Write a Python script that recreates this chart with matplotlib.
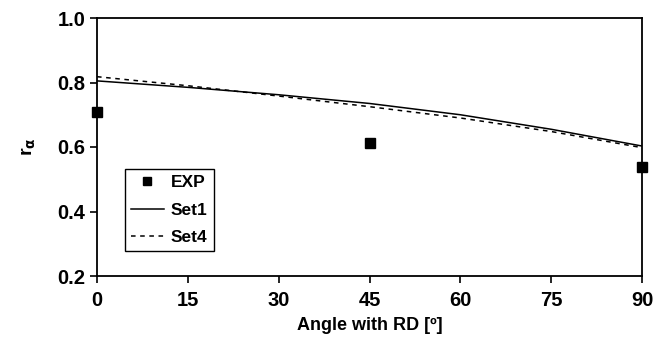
import matplotlib
matplotlib.use("Agg")
import matplotlib.pyplot as plt

# data
exp_angles = [0, 45, 90]
exp_r = [0.709, 0.612, 0.538]

model_angles = [0, 15, 30, 45, 60, 75, 90]
set1_r = [0.805, 0.785, 0.762, 0.735, 0.700, 0.655, 0.603]
set4_r = [0.818, 0.790, 0.758, 0.725, 0.690, 0.648, 0.598]

x_ticks = [0, 15, 30, 45, 60, 75, 90]
y_ticks = [0.2, 0.4, 0.6, 0.8, 1.0]

plt.rcParams.update({
    "font.family": ["Liberation Sans", "DejaVu Sans"],
    "font.weight": "bold",
    "axes.linewidth": 1.3,
})

fig = plt.figure(figsize=(6.72, 3.48), dpi=100)
ax = fig.add_axes([97 / 672, 72 / 348, 545 / 672, 258 / 348])

ax.plot(model_angles, set1_r, color="black", linewidth=1.1, label="Set1")
ax.plot(model_angles, set4_r, color="black", linewidth=1.1, linestyle=(0, (3, 3)), label="Set4")
ax.plot(exp_angles, exp_r, linestyle="none", marker="s", markersize=7.5,
        color="black", label="EXP", clip_on=False, zorder=5)

ax.set_xlim(0, 90)
ax.set_ylim(0.2, 1.0)
ax.set_xticks(x_ticks)
ax.set_yticks(y_ticks)
ax.set_yticklabels([f"{v:.1f}" for v in y_ticks])
ax.tick_params(axis="both", direction="out", length=5, width=1.2, labelsize=14.5)
ax.tick_params(axis="x", pad=6)

ax.set_xlabel("Angle with RD [º]", fontsize=13, fontweight="bold", labelpad=5)
ax.set_ylabel(r"r$_\mathbf{\alpha}$", fontsize=14, fontweight="bold", labelpad=14)

handles, labels = ax.get_legend_handles_labels()
order = [2, 0, 1]
leg = ax.legend([handles[i] for i in order], [labels[i] for i in order],
                loc="lower left", bbox_to_anchor=(0.051, 0.097),
                fancybox=False, edgecolor="black", framealpha=1,
                fontsize=12.5, handlelength=1.9, borderpad=0.35,
                labelspacing=0.7, handletextpad=0.4, markerscale=0.8,
                borderaxespad=0)
leg.get_frame().set_linewidth(1.0)
for t in leg.get_texts():
    t.set_fontweight("bold")

fig.savefig("out.png", dpi=100)
